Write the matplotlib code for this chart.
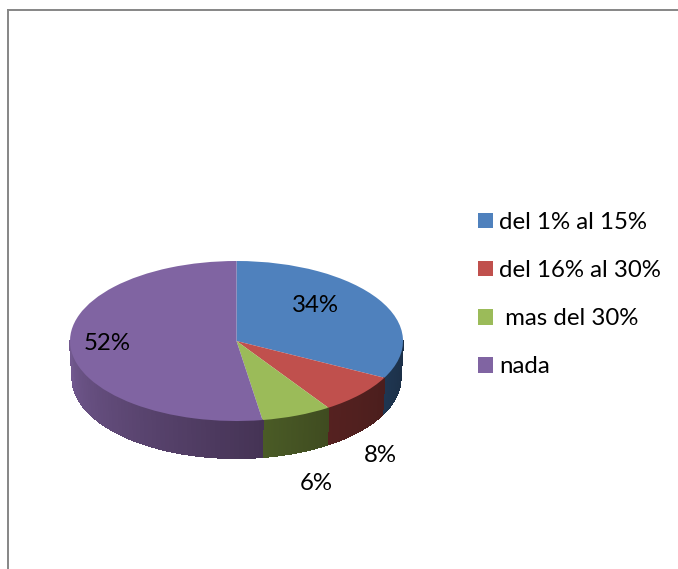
import numpy as np
import matplotlib
matplotlib.use("Agg")
import matplotlib.pyplot as plt
from matplotlib.colors import to_rgb
from matplotlib.lines import Line2D

W, H = 678, 569

categories = ["del 1% al 15%", "del 16% al 30%", " mas del 30%", "nada"]
percent_labels = ["34%", "8%", "6%", "52%"]
# slice sizes as measured on the drawing (the 3d view squeezes them a bit)
shares = [32.6, 8.1, 6.8, 52.5]
colors = ["#4F81BD", "#C0504D", "#9BBB59", "#8064A2"]
side_left = ["#1F3651", "#552120", "#4A5B26", "#72598F"]
side_right = ["#1B2E45", "#4B1E1D", "#3F4B20", "#453355"]

plt.rcParams["font.family"] = ["Lato", "DejaVu Sans"]

# pie centre and radii in pixels
cx, cy, rx, ry = 236.5, 341, 166.5, 80
depth = 37 / ry
shrink = 164 / rx


def px(x, y):
    return (x - cx) / rx, (cy - y) / ry


fig = plt.figure(figsize=(W / 100, H / 100), dpi=100, facecolor="white")
ax = fig.add_axes([0, 0, 1, 1])

wedges, _ = ax.pie(shares, colors=colors, startangle=90, counterclock=False,
                   radius=1, center=(0, 0), wedgeprops={"linewidth": 0})
for w in wedges:
    w.set_zorder(3)
ax.set_aspect("auto")
ax.set_xlim(px(0, 0)[0], px(W, 0)[0])
ax.set_ylim(px(0, H)[1], px(0, 0)[1])
ax.axis("off")

# side wall, only the front half of the rim shows
edges = 90 - np.cumsum([0] + shares) * 3.6
for i in range(len(shares)):
    a0, a1 = edges[i], edges[i + 1]
    front0, front1 = max(a1, -180), min(a0, 0)
    if front1 <= front0:
        continue
    t = np.linspace(front1, front0, 60)
    c0, c1 = np.array(to_rgb(side_right[i])), np.array(to_rgb(side_left[i]))
    for k in range(len(t) - 1):
        aa = np.radians(t[k:k + 2])
        xs = np.cos(aa)
        ys = np.sin(aa)
        f = (k + 0.5) / (len(t) - 1)
        ax.fill(np.r_[xs, xs[::-1] * shrink], np.r_[ys, ys[::-1] - depth],
                color=c0 * (1 - f) + c1 * f, lw=0.8, antialiased=False, zorder=2)

fs = 17.3
label_pos = [(315, 305), (380, 455), (316, 483), (107, 344)]
for s, (x, y) in zip(percent_labels, label_pos):
    ax.text(*px(x, y), s, fontsize=fs, color="black", ha="center", va="center", zorder=4)

leg = ax.legend(wedges, categories, loc="upper left",
                bbox_to_anchor=(478 / W, 1 - 212 / H), frameon=False, fontsize=fs,
                handlelength=0.62, handleheight=0.62, handletextpad=0.25,
                labelspacing=1.13, borderpad=0, borderaxespad=0)

# chart area border, right and bottom edges are cut off in the picture
fig.add_artist(Line2D([8 / W, 8 / W], [0, 1 - 10 / H], color="#868686", lw=1.4))
fig.add_artist(Line2D([8 / W, 1], [1 - 10 / H, 1 - 10 / H], color="#868686", lw=1.4))

fig.savefig("out.png", dpi=100)
